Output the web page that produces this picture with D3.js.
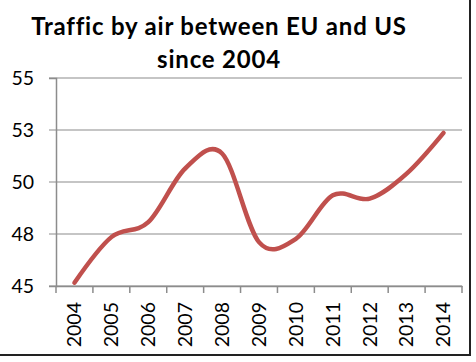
<!DOCTYPE html>
<html>
<head>
<meta charset="utf-8">
<script src="https://cdn.jsdelivr.net/npm/d3@7"></script>
<style>
  body { margin: 0; background: #fff; }
  svg { display: block; }
  text { font-family: Lato, "Open Sans", sans-serif; }
</style>
</head>
<body>
<div id="chart"></div>
<script>
// Chart data
const years = ['2004', '2005', '2006', '2007', '2008', '2009', '2010', '2011', '2012', '2013', '2014'];
const traffic = [45.16, 47.35, 48.07, 50.65, 51.37, 47.11, 47.27, 49.36, 49.2, 50.4, 52.36];
const yTicks = [45, 47.5, 50, 52.5, 55];
const yTickLabels = ['45', '48', '50', '53', '55'];
const titleLines = ['Traffic by air between EU and US', 'since 2004'];

const width = 476, height = 362;
const margin = { top: 78, right: 14, bottom: 76, left: 56 };

const svg = d3.select('#chart')
    .append('svg')
    .attr('width', width)
    .attr('height', height);

// Scales
const x = d3.scaleBand()
    .domain(years)
    .range([margin.left, width - margin.right]);

const y = d3.scaleLinear()
    .domain([45, 55])
    .range([height - margin.bottom, margin.top]);

// Title
svg.append('g')
    .selectAll('text')
    .data(titleLines)
    .enter()
    .append('text')
    .attr('x', 219)
    .attr('y', (d, i) => 35 + i * 33)
    .attr('text-anchor', 'middle')
    .attr('font-size', 24)
    .attr('font-weight', 'bold')
    .attr('letter-spacing', 0.8)
    .attr('fill', '#000')
    .text(d => d);

// Gridlines
svg.append('g')
    .selectAll('line')
    .data(yTicks)
    .enter()
    .append('line')
    .attr('x1', margin.left - 7)
    .attr('x2', width - margin.right)
    .attr('y1', d => y(d))
    .attr('y2', d => y(d))
    .attr('stroke', '#8c8c8c')
    .attr('stroke-width', 1.2);

// Y axis
const yAxis = svg.append('g')
    .attr('transform', `translate(${margin.left},0)`)
    .call(d3.axisLeft(y)
        .tickValues(yTicks)
        .tickFormat((d, i) => yTickLabels[i])
        .tickSize(7)
        .tickPadding(15));
yAxis.select('.domain').attr('stroke', '#8c8c8c').attr('stroke-width', 1.5);
yAxis.selectAll('.tick line').attr('stroke', 'none');
yAxis.selectAll('.tick text')
    .attr('font-size', 19.5)
    .attr('fill', '#000')
    .style('font-family', 'Lato, sans-serif');

// X axis
const xAxis = svg.append('g')
    .attr('transform', `translate(0,${height - margin.bottom})`)
    .call(d3.axisBottom(x).tickSize(0).tickPadding(0));
xAxis.select('.domain').attr('stroke', '#8c8c8c').attr('stroke-width', 1.5);
xAxis.selectAll('.tick text')
    .attr('font-size', 19.5)
    .attr('fill', '#000')
    .style('font-family', 'Lato, sans-serif')
    .attr('transform', 'rotate(-90)')
    .attr('text-anchor', 'end')
    .attr('dy', '0.35em')
    .attr('x', -16)
    .attr('y', 0);

// X tick marks at band edges
const edges = years.map(d => x(d)).concat([x(years[years.length - 1]) + x.bandwidth()]);
xAxis.append('g')
    .selectAll('line')
    .data(edges)
    .enter()
    .append('line')
    .attr('x1', d => d)
    .attr('x2', d => d)
    .attr('y1', 0)
    .attr('y2', 7)
    .attr('stroke', '#8c8c8c')
    .attr('stroke-width', 1.5);

// Smoothed line
const line = d3.line()
    .x((d, i) => x(years[i]) + x.bandwidth() / 2)
    .y(d => y(d))
    .curve(d3.curveCardinal.tension(0));

svg.append('path')
    .datum(traffic)
    .attr('d', line)
    .attr('fill', 'none')
    .attr('stroke', '#c0504d')
    .attr('stroke-width', 4.5)
    .attr('stroke-linecap', 'round');

// Frame on right and bottom
svg.append('path')
    .attr('d', `M0,355 H470 V0`)
    .attr('fill', 'none')
    .attr('stroke', '#222')
    .attr('stroke-width', 2);
</script>
</body>
</html>
